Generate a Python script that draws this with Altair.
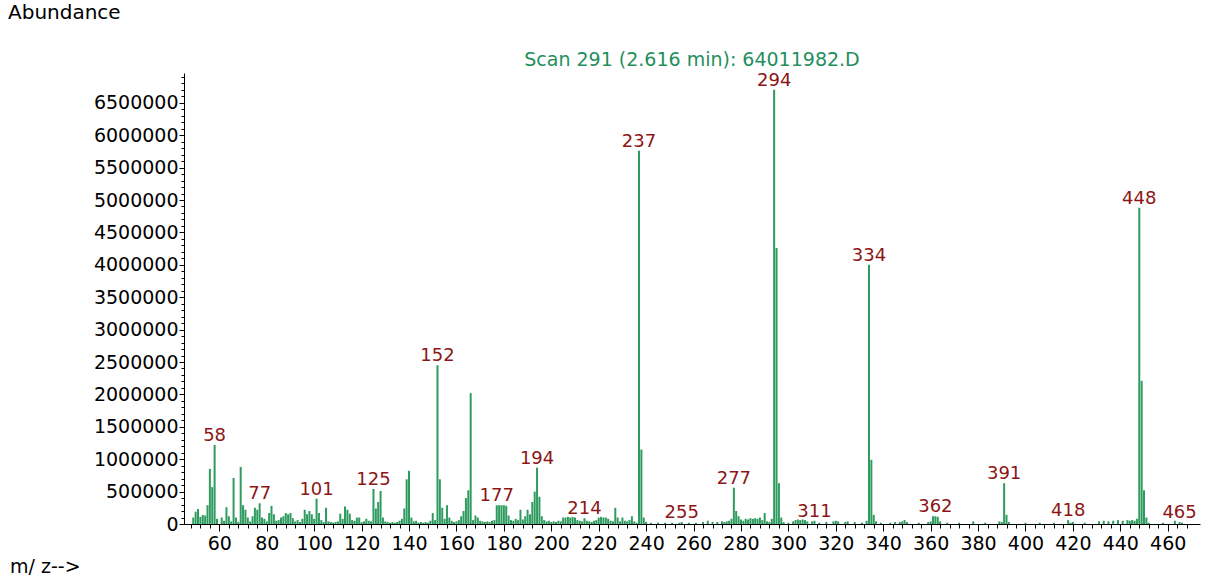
import altair as alt
import pandas as pd

# m/z values and abundances (in millions of counts)
mz = [49, 50, 51, 52, 53, 54, 55, 56, 57, 58, 59,
      61, 62, 63, 64, 65, 66, 67, 68, 69, 70, 71, 72, 73, 74, 75, 76, 77, 78, 79, 80,
      81, 82, 83, 84, 85, 86, 87, 88, 89, 90, 91, 92, 93, 94, 95, 96, 97, 98, 99, 100,
      101, 102, 103, 104, 105, 106, 107, 108, 109, 110, 111, 112, 113, 114, 115, 116, 117, 118, 119, 120,
      121, 122, 123, 124, 125, 126, 127, 128, 129, 130, 131, 132, 133, 134, 135, 136, 137, 138, 139, 140,
      141, 142, 143, 144, 145, 146, 147, 148, 149, 150, 151, 152, 153, 154, 155, 156, 157, 158, 159, 160,
      161, 162, 163, 164, 165, 166, 167, 168, 169, 170, 171, 172, 173, 174, 175, 176, 177, 178, 179, 180,
      181, 182, 183, 184, 185, 186, 187, 188, 189, 190, 191, 192, 193, 194, 195, 196, 197, 198, 199, 200,
      201, 202, 203, 204, 205, 206, 207, 208, 209, 210, 211, 212, 213, 214, 215, 216, 217, 218, 219, 220,
      221, 222, 223, 224, 225, 226, 227, 228, 229, 230, 231, 232, 233, 234, 235, 236, 237, 238, 239, 240,
      242, 245, 248, 251, 254, 255, 258, 261, 264, 266, 268, 270, 272, 273, 274, 275, 276, 277, 278, 279, 280,
      281, 282, 283, 284, 285, 286, 287, 288, 289, 290, 291, 292, 293, 294, 295, 296, 297, 298, 300,
      302, 303, 304, 305, 306, 307, 308, 310, 311, 313, 316, 319, 320, 321, 324, 325, 328, 331, 333, 334, 335, 336, 337,
      339, 343, 345, 347, 348, 349, 350, 355, 359, 360, 361, 362, 363, 364, 367, 372, 378, 383, 389, 390, 391, 392, 393,
      400, 406, 412, 418, 419, 420, 425, 431, 433, 435, 437, 439, 441, 443, 444, 445, 446, 447, 448, 449, 450, 451, 452,
      458, 463, 465, 466]
abundance_millions = [0.10, 0.19, 0.23, 0.11, 0.14, 0.13, 0.29, 0.85, 0.57, 1.22, 0.08,
      0.10, 0.05, 0.26, 0.12, 0.04, 0.71, 0.10, 0.03, 0.88, 0.29, 0.22, 0.10, 0.04, 0.12, 0.25, 0.22, 0.32, 0.10, 0.08, 0.04,
      0.17, 0.28, 0.15, 0.05, 0.06, 0.10, 0.12, 0.17, 0.15, 0.17, 0.09, 0.04, 0.06, 0.03, 0.08, 0.22, 0.15, 0.20, 0.15, 0.08,
      0.39, 0.17, 0.06, 0.03, 0.25, 0.04, 0.03, 0.02, 0.03, 0.04, 0.16, 0.08, 0.27, 0.22, 0.16, 0.06, 0.05, 0.10, 0.10, 0.03,
      0.04, 0.08, 0.05, 0.04, 0.54, 0.24, 0.34, 0.51, 0.10, 0.04, 0.03, 0.02, 0.03, 0.02, 0.03, 0.05, 0.08, 0.24, 0.69, 0.82,
      0.10, 0.04, 0.05, 0.02, 0.03, 0.02, 0.03, 0.02, 0.05, 0.17, 0.06, 2.45, 0.69, 0.25, 0.08, 0.29, 0.10, 0.05, 0.03, 0.04,
      0.06, 0.12, 0.20, 0.40, 0.52, 2.02, 0.06, 0.13, 0.10, 0.05, 0.04, 0.03, 0.04, 0.03, 0.05, 0.06, 0.29, 0.29, 0.29, 0.29,
      0.28, 0.13, 0.06, 0.05, 0.08, 0.06, 0.22, 0.07, 0.12, 0.22, 0.15, 0.34, 0.50, 0.87, 0.42, 0.12, 0.06, 0.04, 0.05, 0.03,
      0.04, 0.03, 0.05, 0.04, 0.10, 0.10, 0.11, 0.10, 0.11, 0.10, 0.06, 0.05, 0.04, 0.09, 0.05, 0.04, 0.03, 0.05, 0.06, 0.10,
      0.11, 0.10, 0.10, 0.08, 0.05, 0.04, 0.25, 0.10, 0.04, 0.10, 0.05, 0.04, 0.06, 0.12, 0.04, 0.02, 5.76, 1.15, 0.10, 0.03,
      0.02, 0.02, 0.02, 0.02, 0.02, 0.03, 0.02, 0.02, 0.03, 0.05, 0.03, 0.03, 0.04, 0.03, 0.04, 0.05, 0.08, 0.56, 0.20, 0.12, 0.07,
      0.05, 0.08, 0.07, 0.09, 0.08, 0.09, 0.08, 0.10, 0.06, 0.17, 0.04, 0.03, 0.08, 6.70, 4.26, 0.63, 0.10, 0.03, 0.02,
      0.04, 0.06, 0.07, 0.06, 0.07, 0.06, 0.04, 0.04, 0.05, 0.02, 0.03, 0.04, 0.05, 0.04, 0.03, 0.04, 0.03, 0.02, 0.05, 4.00, 0.99, 0.14, 0.04,
      0.02, 0.02, 0.03, 0.03, 0.04, 0.06, 0.03, 0.02, 0.03, 0.04, 0.12, 0.12, 0.11, 0.04, 0.02, 0.02, 0.04, 0.02, 0.04, 0.03, 0.63, 0.14, 0.03,
      0.02, 0.02, 0.02, 0.06, 0.02, 0.03, 0.02, 0.04, 0.05, 0.04, 0.05, 0.06, 0.05, 0.06, 0.05, 0.06, 0.05, 0.08, 4.88, 2.21, 0.52, 0.10, 0.02,
      0.02, 0.05, 0.03, 0.02]

label_mz = [58, 77, 101, 125, 152, 177, 194, 214, 237, 255, 277, 294, 311, 334, 362, 391, 418, 448, 465]

x_major = list(range(60, 461, 20))
x_minor = list(range(48, 471, 4))
y_major = list(range(0, 6500001, 500000))
y_minor = list(range(0, 6900001, 100000))

title_text = "Scan 291 (2.616 min): 64011982.D"

df = pd.DataFrame({"mz": mz, "abundance": [v * 1_000_000 for v in abundance_millions]})
lookup = dict(zip(df["mz"], df["abundance"]))
labels = pd.DataFrame({
    "mz": label_mz,
    "abundance": [lookup[m] for m in label_mz],
    "text": [str(m) for m in label_mz],
})

FONT = "DejaVu Sans"
GREEN = "#2e9b5f"
TITLE_GREEN = "#1f8f5c"
RED = "#8c1515"

xscale = alt.Scale(domain=[47.2, 471.5], nice=False, zero=False)
yscale = alt.Scale(domain=[0, 6960000], nice=False)

bars = alt.Chart(df).mark_bar(size=2, color=GREEN).encode(
    x=alt.X("mz:Q", scale=xscale, axis=alt.Axis(
        orient="bottom", values=x_major, title=None, grid=False, tickSize=7,
        labelPadding=3, labelFont=FONT, labelFontSize=19, labelColor="black",
        domainColor="black", tickColor="black", labelOverlap=False, labelFlush=False,
        format="d")),
    y=alt.Y("abundance:Q", scale=yscale, axis=alt.Axis(
        orient="left", values=y_major, title=None, grid=False, tickSize=5,
        labelPadding=1, labelFont=FONT, labelFontSize=19, labelColor="black",
        domainColor="black", tickColor="black", labelOverlap=False, labelFlush=False,
        format="d")),
)

peak_labels = alt.Chart(labels).mark_text(
    font=FONT, fontSize=18, color=RED, baseline="bottom", align="center", dy=0
).encode(
    x=alt.X("mz:Q", scale=xscale, axis=alt.Axis(
        orient="bottom", values=x_minor, labels=False, title=None, grid=False,
        tickSize=4, domain=False, tickColor="black")),
    y=alt.Y("abundance:Q", scale=yscale, axis=alt.Axis(
        orient="left", values=y_minor, labels=False, title=None, grid=False,
        tickSize=3, domain=False, tickColor="black")),
    text="text:N",
)

ann = pd.DataFrame({"t": [title_text]})
title_mark = alt.Chart(ann).mark_text(
    font=FONT, fontSize=19, color=TITLE_GREEN, align="center", baseline="bottom"
).encode(text="t:N", x=alt.value(508), y=alt.value(-3))

yname = alt.Chart(pd.DataFrame({"t": ["Abundance"]})).mark_text(
    font=FONT, fontSize=20, color="black", align="left", baseline="middle"
).encode(text="t:N", x=alt.value(-176), y=alt.value(-60))

xname = alt.Chart(pd.DataFrame({"t": ["m/ z-->"]})).mark_text(
    font=FONT, fontSize=19, color="black", align="left", baseline="middle"
).encode(text="t:N", x=alt.value(-174), y=alt.value(494))

chart = alt.layer(bars, peak_labels, title_mark, yname, xname).resolve_axis(
    x="independent", y="independent"
).properties(
    width=1016, height=451,
    autosize=alt.AutoSizeParams(type="none"),
    padding={"left": 184, "top": 73, "right": 20, "bottom": 56},
    background="white",
).configure_view(stroke=None)

chart.save("out.html", embed_options={"renderer": "svg", "actions": False})
